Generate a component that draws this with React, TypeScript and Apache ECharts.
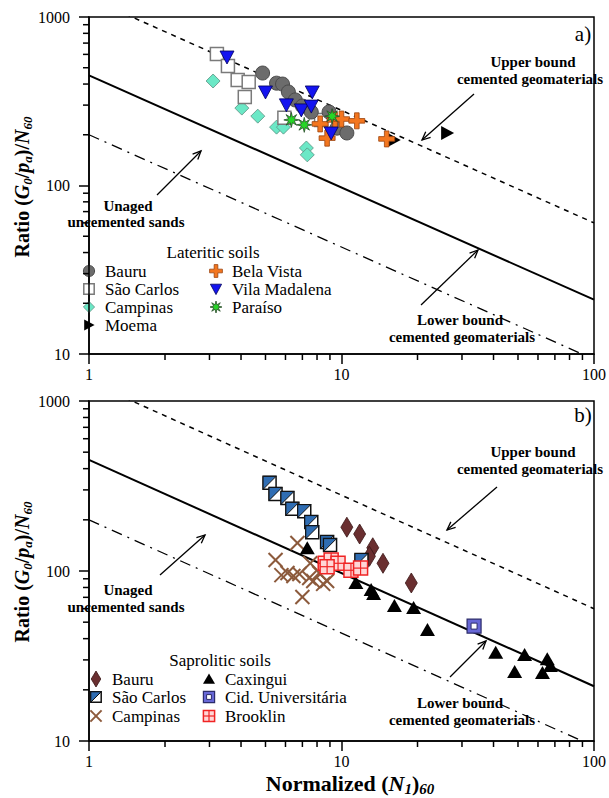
import React, { useEffect, useRef } from "react";
import * as echarts from "echarts";

const FONT = "Liberation Serif";

// axis extents & ticks
const N_MIN = 1;
const N_MAX = 100;
const G_MIN = 10;
const G_MAX = 1000;
const minorN = [2, 3, 4, 5, 6, 7, 8, 9, 20, 30, 40, 50, 60, 70, 80, 90];
const minorG = [20, 30, 40, 50, 60, 70, 80, 90, 200, 300, 400, 500, 600, 700, 800, 900];

// reference bound lines (endpoints)
const boundN = [1, 100];
const upperBoundG = [1300, 60];
const lowerBoundG = [450, 21];
const unagedG = [200, 9.3];

// Panel a) lateritic soils
const latBauruN = [4.87, 5.53, 5.84, 6.16, 6.56, 7.0, 7.59, 8.93, 9.6, 10.5];
const latBauruG = [465, 405, 400, 359, 322, 296, 273, 273, 219, 205];
const latSaoCarlosN = [3.21, 3.55, 3.88, 4.29, 4.14, 5.94, 8.3];
const latSaoCarlosG = [603, 512, 423, 411, 335, 252, 245];
const latCampinasN = [3.1, 4.03, 4.66, 5.53, 5.89, 7.26, 7.32];
const latCampinasG = [417, 288, 258, 222, 222, 167, 152];
const moemaN = [16.1, 26.2];
const moemaG = [186, 205];
const belaVistaN = [8.23, 9.43, 10.0, 11.5, 8.77, 15.1];
const belaVistaG = [232, 245, 248, 242, 191, 189];
const vilaMadalenaN = [3.52, 5.0, 6.05, 6.93, 7.66, 7.59, 9.1];
const vilaMadalenaG = [579, 359, 301, 281, 359, 296, 205];
const paraisoN = [6.33, 7.12, 9.18];
const paraisoG = [245, 229, 258];

// Panel b) saprolitic soils
const sapBauruN = [10.5, 11.8, 13.3, 12.9, 14.6, 18.9];
const sapBauruG = [181, 165, 137, 122, 111, 85];
const sapSaoCarlosN = [5.19, 5.48, 6.11, 6.39, 7.12, 7.59, 7.66, 8.77, 9.01, 12.0];
const sapSaoCarlosG = [330, 284, 269, 232, 225, 194, 169, 148, 142, 116];
const sapCampinasN = [6.69, 5.48, 7.52, 5.78, 6.11, 6.45, 6.81, 7.45, 7.73, 8.16, 8.46, 8.77, 7.0];
const sapCampinasG = [146, 116, 111, 94.6, 97.3, 93.5, 96, 91, 87.3, 97.3, 84, 87.3, 70.3];
const caxinguiN = [7.32, 11.4, 13.1, 13.4, 16.2, 19.3, 21.9, 40.8, 53.1, 48.5, 62.5, 65.3, 67.2];
const caxinguiG = [136, 85, 77.3, 73.3, 62.2, 60.5, 45, 33, 32.1, 25.5, 25.1, 30.3, 27.6];
const cidUnivN = [33.5];
const cidUnivG = [47.4];
const brooklinN = [8.62, 9.1, 9.69, 8.77, 10.9, 11.9];
const brooklinG = [111, 116, 111, 106, 101, 104];

function marker(kind: string, x: number, y: number, k: number = 1): any[] {
  switch (kind) {
    case "circleGray":
      return [{ type: "circle", shape: { cx: x, cy: y, r: 7 * k }, style: { fill: "#6c6c6c", stroke: "#4a4a4a", lineWidth: 1 } }];
    case "squareWhite":
      return [{ type: "rect", shape: { x: x - 6.5 * k, y: y - 6.5 * k, width: 13 * k, height: 13 * k }, style: { fill: "#ffffff", stroke: "#7a7a7a", lineWidth: 1.5 } }];
    case "diamondAqua":
      return [{ type: "polygon", shape: { points: [[x, y - 7 * k], [x + 7 * k, y], [x, y + 7 * k], [x - 7 * k, y]] }, style: { fill: "#6be8c6", stroke: "#5a8f82", lineWidth: 0.8 } }];
    case "triRightBlack":
      return [{ type: "polygon", shape: { points: [[x - 6 * k, y - 7 * k], [x + 7 * k, y], [x - 6 * k, y + 7 * k]] }, style: { fill: "#000000" } }];
    case "plusOrange": {
      const a = 2.3 * k, l = 8 * k;
      return [{
        type: "polygon",
        shape: { points: [[x - a, y - l], [x + a, y - l], [x + a, y - a], [x + l, y - a], [x + l, y + a], [x + a, y + a], [x + a, y + l], [x - a, y + l], [x - a, y + a], [x - l, y + a], [x - l, y - a], [x - a, y - a]] },
        style: { fill: "#f3761f", stroke: "#9a4410", lineWidth: 0.8 },
      }];
    }
    case "triDownBlue":
      return [{ type: "polygon", shape: { points: [[x - 7 * k, y - 6 * k], [x + 7 * k, y - 6 * k], [x, y + 7 * k]] }, style: { fill: "#1414f0", stroke: "#00005a", lineWidth: 0.8 } }];
    case "starGreen": {
      const pts: number[][] = [];
      for (let i = 0; i < 16; i++) {
        const ang = (Math.PI * i) / 8 - Math.PI / 2;
        const r = (i % 2 === 0 ? 7.5 : 3) * k;
        pts.push([x + r * Math.cos(ang), y + r * Math.sin(ang)]);
      }
      return [{ type: "polygon", shape: { points: pts }, style: { fill: "#26d626", stroke: "#2a4a2a", lineWidth: 0.8 } }];
    }
    case "diamondBrown":
      return [{ type: "polygon", shape: { points: [[x, y - 10 * k], [x + 6 * k, y], [x, y + 10 * k], [x - 6 * k, y]] }, style: { fill: "#6a2f30", stroke: "#3a1616", lineWidth: 0.8 } }];
    case "halfSquareBlue": {
      const h = 6.5 * k;
      return [
        { type: "rect", shape: { x: x - h, y: y - h, width: 2 * h, height: 2 * h }, style: { fill: "#ffffff", stroke: "#111111", lineWidth: 1.5 } },
        { type: "polygon", shape: { points: [[x - h, y - h], [x + h, y - h], [x - h, y + h]] }, style: { fill: "#2f6db3", stroke: "#111111", lineWidth: 1 } },
      ];
    }
    case "xBrown": {
      const h = 7 * k;
      return [
        { type: "line", shape: { x1: x - h, y1: y - h, x2: x + h, y2: y + h }, style: { stroke: "#8c5a3c", lineWidth: 2 } },
        { type: "line", shape: { x1: x - h, y1: y + h, x2: x + h, y2: y - h }, style: { stroke: "#8c5a3c", lineWidth: 2 } },
      ];
    }
    case "triUpBlack":
      return [{ type: "polygon", shape: { points: [[x, y - 7 * k], [x + 7.5 * k, y + 6 * k], [x - 7.5 * k, y + 6 * k]] }, style: { fill: "#000000" } }];
    case "squareCid": {
      const h = 7 * k, i = 3 * k;
      return [
        { type: "rect", shape: { x: x - h, y: y - h, width: 2 * h, height: 2 * h }, style: { fill: "#6767d6", stroke: "#2c2c6a", lineWidth: 1.2 } },
        { type: "rect", shape: { x: x - i, y: y - i, width: 2 * i, height: 2 * i }, style: { fill: "#ffffff", stroke: "#2c2c6a", lineWidth: 1 } },
      ];
    }
    case "squareBrooklin": {
      const h = 7 * k;
      return [
        { type: "rect", shape: { x: x - h, y: y - h, width: 2 * h, height: 2 * h }, style: { fill: "#ffd6d6", stroke: "#f02424", lineWidth: 1.5 } },
        { type: "line", shape: { x1: x - h, y1: y, x2: x + h, y2: y }, style: { stroke: "#f02424", lineWidth: 1.2 } },
        { type: "line", shape: { x1: x, y1: y - h, x2: x, y2: y + h }, style: { stroke: "#f02424", lineWidth: 1.2 } },
      ];
    }
  }
  return [];
}

function pointSeries(name: string, kind: string, xs: number[], ys: number[], g: number) {
  return {
    type: "custom",
    name,
    xAxisIndex: g,
    yAxisIndex: g,
    data: xs.map((v, i) => [v, ys[i]]),
    encode: { x: 0, y: 1 },
    z: 5,
    renderItem: (_p: any, api: any) => {
      const p = api.coord([api.value(0), api.value(1)]);
      return { type: "group", children: marker(kind, p[0], p[1]) };
    },
  };
}

function boundSeries(ys: number[], g: number, type: any, width: number) {
  return {
    type: "line",
    xAxisIndex: g,
    yAxisIndex: g,
    data: boundN.map((v, i) => [v, ys[i]]),
    symbol: "none",
    clip: true,
    z: 3,
    lineStyle: { color: "#000", width, type },
  };
}

function minorTickSeries(g: number) {
  return [
    {
      type: "custom",
      xAxisIndex: g,
      yAxisIndex: g,
      silent: true,
      data: minorN.map((v) => [v, G_MIN]),
      encode: { x: 0, y: 1 },
      renderItem: (_p: any, api: any) => {
        const p = api.coord([api.value(0), api.value(1)]);
        return { type: "line", shape: { x1: p[0], y1: p[1], x2: p[0], y2: p[1] + 6 }, style: { stroke: "#000", lineWidth: 1.5 } };
      },
    },
    {
      type: "custom",
      xAxisIndex: g,
      yAxisIndex: g,
      silent: true,
      data: minorG.map((v) => [N_MIN, v]),
      encode: { x: 0, y: 1 },
      renderItem: (_p: any, api: any) => {
        const p = api.coord([api.value(0), api.value(1)]);
        return { type: "line", shape: { x1: p[0] - 6, y1: p[1], x2: p[0], y2: p[1] }, style: { stroke: "#000", lineWidth: 1.5 } };
      },
    },
  ];
}

function arrow(x1: number, y1: number, x2: number, y2: number) {
  const ang = Math.atan2(y2 - y1, x2 - x1);
  const h = 9;
  const s = 0.42;
  const p1 = [x2 - h * Math.cos(ang - s), y2 - h * Math.sin(ang - s)];
  const p2 = [x2 - h * Math.cos(ang + s), y2 - h * Math.sin(ang + s)];
  return {
    type: "group",
    children: [
      { type: "line", shape: { x1, y1, x2, y2 }, style: { stroke: "#000", lineWidth: 1.3 } },
      { type: "polyline", shape: { points: [p1, [x2, y2], p2] }, style: { stroke: "#000", lineWidth: 1.3, fill: null } },
    ],
  };
}

const textRich = {
  b: { fontFamily: FONT, fontSize: 15, fontWeight: "bold", fill: "#000", color: "#000", lineHeight: 15 },
  r: { fontFamily: FONT, fontSize: 17, fontWeight: "normal", fill: "#000", color: "#000", lineHeight: 16 },
  big: { fontFamily: FONT, fontSize: 21, fontWeight: "normal", fill: "#000", color: "#000" },
};

function txt(text: string, x: number, y: number, opts: any = {}) {
  const key = opts.big ? "big" : opts.bold === false ? "r" : "b";
  return {
    type: "text",
    x,
    y,
    style: {
      text: `{${key}|${text}}`,
      rich: textRich,
      textAlign: opts.align || "center",
      textVerticalAlign: "middle",
    },
  };
}

function legendGroup(title: string, tx: number, ty: number, items: { kind: string; label: string; ix: number; iy: number }[], textGap: number) {
  const children: any[] = [txt(title, tx, ty, { bold: false })];
  items.forEach((it) => {
    marker(it.kind, it.ix, it.iy, 0.8).forEach((m) => children.push(m));
    children.push(txt(it.label, it.ix + textGap, it.iy, { bold: false, align: "left" }));
  });
  return { type: "group", children };
}

const axisLabelStyle = { color: "#000", fontFamily: FONT, fontSize: 16, formatter: (v: number) => String(v) };

function xAxis(g: number) {
  return {
    type: "log",
    logBase: 10,
    gridIndex: g,
    min: N_MIN,
    max: N_MAX,
    axisLine: { lineStyle: { color: "#000", width: 1.5 } },
    axisTick: { show: true, inside: false, length: 10, lineStyle: { color: "#000", width: 1.5 } },
    axisLabel: { ...axisLabelStyle, margin: 12 },
    splitLine: { show: false },
    minorTick: { show: false },
  };
}

function yAxis(g: number) {
  return {
    type: "log",
    logBase: 10,
    gridIndex: g,
    min: G_MIN,
    max: G_MAX,
    axisLine: { lineStyle: { color: "#000", width: 1.5 } },
    axisTick: { show: true, inside: false, length: 10, lineStyle: { color: "#000", width: 1.5 } },
    axisLabel: { ...axisLabelStyle, margin: 19 },
    splitLine: { show: false },
  };
}

function titleRich(size: number) {
  const sub = Math.round(size * 0.66);
  return {
    b: { fontFamily: FONT, fontSize: size, fontWeight: "bold", fill: "#000" },
    i: { fontFamily: FONT, fontSize: size, fontWeight: "bold", fontStyle: "italic", fill: "#000" },
    s: { fontFamily: FONT, fontSize: sub, fontWeight: "bold", fontStyle: "italic", fill: "#000", padding: [Math.round(size * 0.5), 0, 0, 0] },
  };
}

function yTitle(cy: number) {
  return {
    type: "text",
    x: 22,
    y: cy,
    rotation: Math.PI / 2,
    style: {
      text: "{b|Ratio (}{i|G}{s|0}{b|/}{i|p}{s|a}{b|)/}{i|N}{s|60}",
      rich: titleRich(20),
      textAlign: "center",
      textVerticalAlign: "middle",
    },
  };
}

export default function App() {
  const ref = useRef<HTMLDivElement>(null);
  useEffect(() => {
    document.body.style.margin = "0";
    if (!ref.current) return;
    const chart = echarts.init(ref.current, null, { renderer: "svg" });
    const option: any = {
      animation: false,
      backgroundColor: "#fff",
      grid: [
        { left: 89, right: 11, top: 17, height: 337, show: true, borderColor: "#000", borderWidth: 1.5, backgroundColor: "transparent" },
        { left: 89, right: 11, top: 401, height: 340, show: true, borderColor: "#000", borderWidth: 1.5, backgroundColor: "transparent" },
      ],
      xAxis: [xAxis(0), xAxis(1)],
      yAxis: [yAxis(0), yAxis(1)],
      series: [
        ...minorTickSeries(0),
        ...minorTickSeries(1),
        boundSeries(upperBoundG, 0, [5, 5], 1.5),
        boundSeries(lowerBoundG, 0, "solid", 2),
        boundSeries(unagedG, 0, [11, 6, 2, 6], 1.3),
        boundSeries(upperBoundG, 1, [5, 5], 1.5),
        boundSeries(lowerBoundG, 1, "solid", 2),
        boundSeries(unagedG, 1, [11, 6, 2, 6], 1.3),
        pointSeries("Campinas", "diamondAqua", latCampinasN, latCampinasG, 0),
        pointSeries("São Carlos", "squareWhite", latSaoCarlosN, latSaoCarlosG, 0),
        pointSeries("Bauru", "circleGray", latBauruN, latBauruG, 0),
        pointSeries("Moema", "triRightBlack", moemaN, moemaG, 0),
        pointSeries("Bela Vista", "plusOrange", belaVistaN, belaVistaG, 0),
        pointSeries("Vila Madalena", "triDownBlue", vilaMadalenaN, vilaMadalenaG, 0),
        pointSeries("Paraíso", "starGreen", paraisoN, paraisoG, 0),
        pointSeries("Bauru", "diamondBrown", sapBauruN, sapBauruG, 1),
        pointSeries("São Carlos", "halfSquareBlue", sapSaoCarlosN, sapSaoCarlosG, 1),
        pointSeries("Campinas", "xBrown", sapCampinasN, sapCampinasG, 1),
        pointSeries("Caxingui", "triUpBlack", caxinguiN, caxinguiG, 1),
        pointSeries("Cid. Universitária", "squareCid", cidUnivN, cidUnivG, 1),
        pointSeries("Brooklin", "squareBrooklin", brooklinN, brooklinG, 1),
      ],
      graphic: [
        // panel a
        txt("a)", 583, 34, { big: true }),
        txt("Upper bound", 533, 62),
        txt("cemented geomaterials", 530, 79),
        arrow(474, 94, 422, 140),
        txt("Unaged", 128, 206),
        txt("uncemented sands", 126, 222),
        arrow(157, 195, 201, 151),
        txt("Lower bound", 460, 320),
        txt("cemented geomaterials", 462, 337),
        arrow(421, 305, 478, 250),
        legendGroup("Lateritic soils", 213, 252, [
          { kind: "circleGray", label: "Bauru", ix: 89, iy: 271 },
          { kind: "squareWhite", label: "São Carlos", ix: 89, iy: 289 },
          { kind: "diamondAqua", label: "Campinas", ix: 89, iy: 307 },
          { kind: "triRightBlack", label: "Moema", ix: 89, iy: 325 },
          { kind: "plusOrange", label: "Bela Vista", ix: 216, iy: 271 },
          { kind: "triDownBlue", label: "Vila Madalena", ix: 216, iy: 289 },
          { kind: "starGreen", label: "Paraíso", ix: 216, iy: 307 },
        ], 16),
        // panel b
        txt("b)", 583, 415, { big: true }),
        txt("Upper bound", 533, 452),
        txt("cemented geomaterials", 530, 469),
        arrow(497, 487, 447, 530),
        txt("Unaged", 128, 590),
        txt("uncemented sands", 126, 607),
        arrow(160, 575, 205, 535),
        txt("Lower bound", 460, 703),
        txt("cemented geomaterials", 462, 720),
        arrow(450, 677, 486, 641),
        legendGroup("Saprolitic soils", 220, 660, [
          { kind: "diamondBrown", label: "Bauru", ix: 96, iy: 679 },
          { kind: "halfSquareBlue", label: "São Carlos", ix: 96, iy: 697 },
          { kind: "xBrown", label: "Campinas", ix: 96, iy: 716 },
          { kind: "triUpBlack", label: "Caxingui", ix: 209, iy: 679 },
          { kind: "squareCid", label: "Cid. Universitária", ix: 209, iy: 697 },
          { kind: "squareBrooklin", label: "Brooklin", ix: 209, iy: 716 },
        ], 16),
        // axis titles
        yTitle(187),
        yTitle(572),
        {
          type: "text",
          x: 350,
          y: 783,
          style: {
            text: "{b|Normalized (}{i|N}{s|1}{b|)}{s|60}",
            rich: titleRich(22),
            textAlign: "center",
            textVerticalAlign: "middle",
          },
        },
      ],
    };
    chart.setOption(option);
    return () => chart.dispose();
  }, []);
  return <div ref={ref} style={{ width: 609, height: 798 }} />;
}
